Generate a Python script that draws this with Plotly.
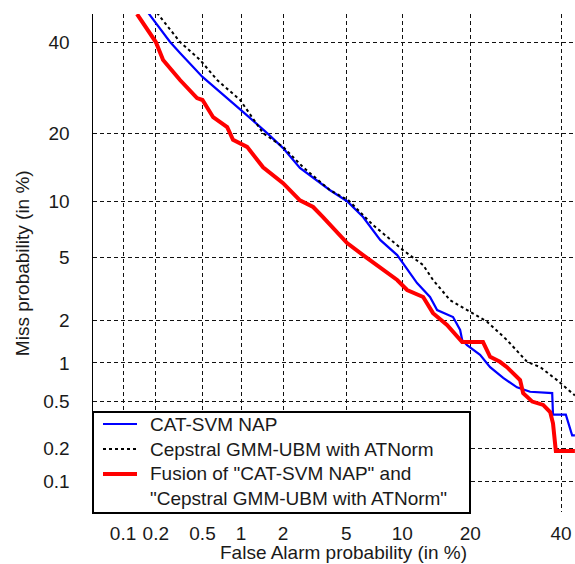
import numpy as np
import plotly.graph_objects as go

# ---------------- data (percent) ----------------
tick_vals = [0.1, 0.2, 0.5, 1, 2, 5, 10, 20, 40]
tick_text = ["0.1", "0.2", "0.5", "1", "2", "5", "10", "20", "40"]

series_names = ["CAT-SVM NAP",
                "Cepstral GMM-UBM with ATNorm",
                'Fusion of "CAT-SVM NAP" and<br>"Cepstral GMM-UBM with ATNorm"']

cat_fa = [0.171, 0.2, 0.267, 0.325, 0.5, 1.0, 1.55, 2.0, 2.59, 4.01, 5.06, 6.23, 7.71,
          9.43, 10.08, 11.78, 13.52, 14.55, 17.03, 18.22, 18.57, 19.43, 21.83, 23.8,
          26.5, 29.5, 32.5, 37.8, 38.0, 41.2, 42.8, 43.5]
cat_miss = [47.4, 44.8, 40.0, 37.3, 31.6, 24.4, 20.0, 17.4, 14.3, 11.3, 10.0, 8.32, 6.28,
            5.16, 4.64, 3.51, 2.87, 2.36, 2.12, 1.73, 1.47, 1.35, 1.15, 0.93,
            0.77, 0.65, 0.60, 0.585, 0.39, 0.39, 0.26, 0.26]

gmm_fa = [0.205, 0.325, 0.478, 0.655, 0.985, 1.45, 2.0, 2.72, 4.01, 5.15, 7.06, 10.08,
          12.58, 13.95, 16.55, 20.0, 23.2, 27.3, 31.8, 34.9, 39.0, 43.5]
gmm_miss = [47.4, 40.0, 35.6, 30.9, 26.5, 20.0, 17.6, 14.4, 11.3, 10.1, 7.56, 5.51,
            4.51, 3.67, 2.74, 2.29, 1.97, 1.47, 1.02, 0.93, 0.74, 0.56]

fus_fa = [0.135, 0.2, 0.232, 0.325, 0.451, 0.5, 0.609, 0.785, 0.87, 1.11, 1.45, 2.0,
          2.59, 3.15, 3.63, 5.06, 6.23, 7.71, 9.43, 10.56, 12.58, 13.95, 16.06, 18.57,
          22.4, 23.8, 25.8, 27.3, 30.2, 30.9, 33.0, 35.6, 37.3, 38.0, 38.7, 43.5]
fus_miss = [47.1, 40.0, 35.6, 30.9, 26.9, 26.5, 23.0, 21.1, 18.8, 17.6, 14.4, 12.2,
            10.1, 9.36, 8.32, 6.04, 5.16, 4.33, 3.67, 3.18, 2.87, 2.25, 1.87, 1.42,
            1.42, 1.11, 1.02, 0.93, 0.74, 0.585, 0.50, 0.47, 0.41, 0.33, 0.19, 0.19]


def probit(p_percent):
    """Inverse standard normal CDF (Acklam's approximation), input in percent."""
    p = np.asarray(p_percent, dtype=float) / 100.0
    a = [-3.969683028665376e+01, 2.209460984245205e+02, -2.759285104469687e+02,
         1.383577518672690e+02, -3.066479806614716e+01, 2.506628277459239e+00]
    b = [-5.447609879822406e+01, 1.615858368580409e+02, -1.556989798598866e+02,
         6.680131188771972e+01, -1.328068155288572e+01]
    c = [-7.784894002430293e-03, -3.223964580411365e-01, -2.400758277161838e+00,
         -2.549732539343734e+00, 4.374664141464968e+00, 2.938163982698783e+00]
    d = [7.784695709041462e-03, 3.224671290700398e-01, 2.445134137142996e+00,
         3.754408661907416e+00]
    plow = 0.02425
    phigh = 1 - plow
    out = np.empty_like(p)
    lo = p < plow
    hi = p > phigh
    mid = ~(lo | hi)
    q = np.sqrt(-2 * np.log(p[lo]))
    out[lo] = (((((c[0]*q+c[1])*q+c[2])*q+c[3])*q+c[4])*q+c[5]) / \
              ((((d[0]*q+d[1])*q+d[2])*q+d[3])*q+1)
    q = p[mid] - 0.5
    r = q*q
    out[mid] = (((((a[0]*r+a[1])*r+a[2])*r+a[3])*r+a[4])*r+a[5])*q / \
               (((((b[0]*r+b[1])*r+b[2])*r+b[3])*r+b[4])*r+1)
    q = np.sqrt(-2 * np.log(1 - p[hi]))
    out[hi] = -(((((c[0]*q+c[1])*q+c[2])*q+c[3])*q+c[4])*q+c[5]) / \
               ((((d[0]*q+d[1])*q+d[2])*q+d[3])*q+1)
    return out


FONT = "Liberation Sans, Arial, sans-serif"
TXT = "#1a1a1a"
FS = 19

styles = [dict(color="#0000ff", width=2.2),
          dict(color="#000000", width=2, dash="dot"),
          dict(color="#ff0000", width=4)]
data = [(cat_fa, cat_miss), (gmm_fa, gmm_miss), (fus_fa, fus_miss)]

fig = go.Figure()
for name, (fa, miss), st in zip(series_names, data, styles):
    fig.add_trace(go.Scatter(x=probit(fa), y=probit(miss), mode="lines",
                             name=name.replace("<br>", " "), line=st,
                             showlegend=False))

fig.update_xaxes(range=[-3.285, -0.163], tickvals=probit(tick_vals).tolist(),
                 ticktext=tick_text, showgrid=True, gridcolor="#111",
                 griddash="4px,3px", gridwidth=1, zeroline=False, showline=False,
                 ticks="", ticklabelstandoff=8, automargin=False,
                 tickfont=dict(family=FONT, size=FS, color=TXT))
fig.update_yaxes(range=[-3.289, -0.0724], tickvals=probit(tick_vals).tolist(),
                 ticktext=tick_text, showgrid=True, gridcolor="#111",
                 griddash="4px,3px", gridwidth=1, zeroline=False, showline=True,
                 linecolor="#000", linewidth=1.5, ticks="", ticklabelstandoff=18,
                 automargin=False,
                 tickfont=dict(family=FONT, size=FS, color=TXT))

fig.add_annotation(text="False Alarm probability (in %)", xref="paper", yref="paper",
                   x=0.52, y=-0.082, xanchor="center", yanchor="middle", showarrow=False,
                   font=dict(family=FONT, size=FS, color=TXT))
fig.add_annotation(text="Miss probability (in %)", xref="paper", yref="paper",
                   x=-0.147, y=0.5, xanchor="center", yanchor="middle", showarrow=False,
                   textangle=-90, font=dict(family=FONT, size=FS, color=TXT))

# ---- legend box (drawn manually to match the original layout) ----
PW, PH, L, B = 482.0, 498.0, 93.0, 512.0
def px(xp):
    return (xp - L) / PW
def py(yp):
    return (B - yp) / PH

fig.add_shape(type="rect", xref="paper", yref="paper", layer="above",
              x0=px(93), x1=px(470), y0=py(513), y1=py(412),
              fillcolor="white", line=dict(color="#000", width=2))
rows = [424, 449, 474]
for yrow, st in zip(rows, styles):
    fig.add_shape(type="line", xref="paper", yref="paper", layer="above",
                  x0=px(103), x1=px(137), y0=py(yrow), y1=py(yrow), line=st)
fig.add_annotation(text=series_names[0], xref="paper", yref="paper", x=px(148), y=py(424),
                   xanchor="left", yanchor="middle", showarrow=False,
                   font=dict(family=FONT, size=FS, color=TXT))
fig.add_annotation(text=series_names[1], xref="paper", yref="paper", x=px(148), y=py(449),
                   xanchor="left", yanchor="middle", showarrow=False,
                   font=dict(family=FONT, size=FS, color=TXT))
fig.add_annotation(text=series_names[2], xref="paper", yref="paper", x=px(148), y=py(486),
                   xanchor="left", yanchor="middle", showarrow=False, align="left",
                   font=dict(family=FONT, size=FS, color=TXT))

fig.update_layout(
    width=575, height=564,
    margin=dict(l=93, r=0, t=14, b=52, autoexpand=False),
    paper_bgcolor="white", plot_bgcolor="white",
    showlegend=False,
)

fig.write_html("out.html",
               config={"displayModeBar": False, "staticPlot": True},
               post_script="document.body.style.margin='0';"
                           "document.body.style.padding='0';"
                           "document.body.style.overflow='hidden';")
